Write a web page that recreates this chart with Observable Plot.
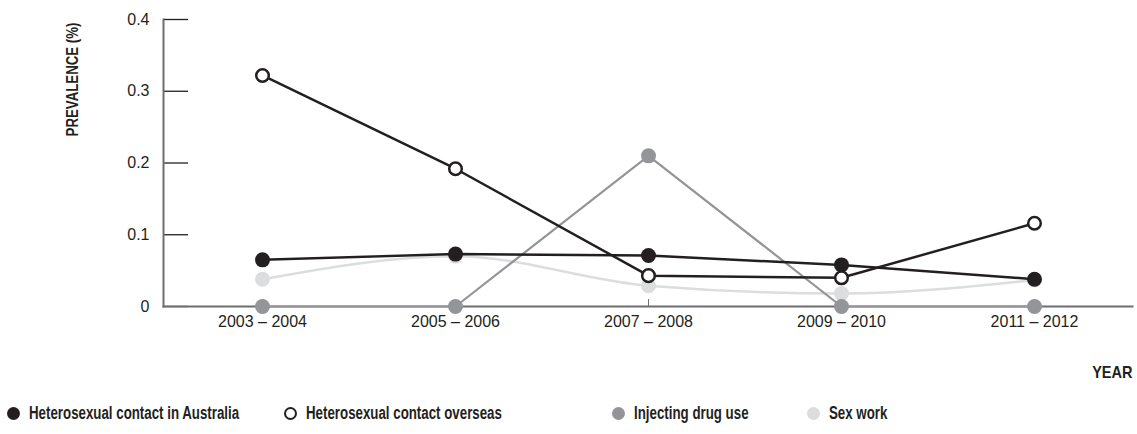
<!DOCTYPE html>
<html>
<head>
<meta charset="utf-8">
<script src="https://cdn.jsdelivr.net/npm/d3@7"></script>
<script src="https://cdn.jsdelivr.net/npm/@observablehq/plot@0.6"></script>
<style>
  html, body { margin: 0; padding: 0; background: #fff; }
  #wrap { position: relative; width: 1137px; height: 434px; }
  #legend { position: absolute; left: 0; top: 403px; width: 1137px; height: 22px;
    font-family: "Liberation Sans", Arial, sans-serif; font-weight: bold; font-size: 17.5px; color: #231f20; }
  .item { position: absolute; top: 0; display: flex; align-items: center; white-space: nowrap; }
  .sw { display: inline-block; width: 13px; height: 13px; border-radius: 50%; margin-right: 9px; box-sizing: border-box; flex: none; }
  .lbl { display: inline-block; transform: scaleX(0.76); transform-origin: 0 50%; }
</style>
</head>
<body>
<div id="wrap">
  <div id="chart"></div>
  <div id="legend"></div>
</div>
<script>
const years = ["2003 – 2004", "2005 – 2006", "2007 – 2008", "2009 – 2010", "2011 – 2012"];
const seriesNames = ["Heterosexual contact in Australia", "Heterosexual contact overseas", "Injecting drug use", "Sex work"];
const hetAustralia = [0.065, 0.073, 0.071, 0.058, 0.038];
const hetOverseas = [0.322, 0.192, 0.043, 0.040, 0.116];
const injecting = [0, 0, 0.210, 0, 0];
const sexWork = [0.038, 0.070, 0.029, 0.018, 0.037];
const yTicks = [0, 0.1, 0.2, 0.3, 0.4];

const dark = "#231f20", mid = "#939598", light = "#dcddde", axisGrey = "#6d6e71";
const toRows = (vals) => years.map((y, i) => ({year: y, value: vals[i]}));
const dAus = toRows(hetAustralia), dOver = toRows(hetOverseas), dInj = toRows(injecting), dSex = toRows(sexWork);

const chart = Plot.plot({
  width: 1137,
  height: 395,
  marginLeft: 163,
  marginRight: 5,
  marginTop: 19,
  marginBottom: 89,
  style: {fontFamily: "'Liberation Sans', Arial, sans-serif", fontSize: "16px", color: dark, background: "#fff", overflow: "visible"},
  x: {type: "point", domain: years, padding: 0.5, label: null},
  y: {domain: [0, 0.4], label: null},
  marks: [
    Plot.axisY({ticks: yTicks, tickSize: -25, tickFormat: () => "", stroke: dark, strokeWidth: 1.3}),
    Plot.axisY({ticks: yTicks, tickSize: 0, tickPadding: 14, tickFormat: d => d === 0 ? "0" : d3.format(".1f")(d), fill: dark, label: null}),
    Plot.axisX({tickSize: -7, tickPadding: 16, stroke: axisGrey, fill: dark}),
    Plot.frame({anchor: "left", stroke: axisGrey, strokeWidth: 2}),
    Plot.frame({anchor: "bottom", stroke: axisGrey, strokeWidth: 2}),
    Plot.line(dSex, {x: "year", y: "value", stroke: light, strokeWidth: 2.5, curve: "monotone-x"}),
    Plot.dot(dSex, {x: "year", y: "value", fill: light, r: 7.5}),
    Plot.line(dInj, {x: "year", y: "value", stroke: mid, strokeWidth: 2.2}),
    Plot.dot(dInj, {x: "year", y: "value", fill: mid, r: 7.5}),
    Plot.line(dAus, {x: "year", y: "value", stroke: dark, strokeWidth: 2.5}),
    Plot.dot(dAus, {x: "year", y: "value", fill: dark, r: 7.5}),
    Plot.line(dOver, {x: "year", y: "value", stroke: dark, strokeWidth: 2.5}),
    Plot.dot(dOver, {x: "year", y: "value", fill: "#fff", stroke: dark, strokeWidth: 2.5, r: 6.3}),
    Plot.text(["PREVALENCE (%)"], {frameAnchor: "top-left", dx: -98, dy: 60, rotate: -90, textAnchor: "middle", fontWeight: "bold", fontSize: 17, fill: dark}),
    Plot.text(["YEAR"], {frameAnchor: "bottom-right", dy: 71, textAnchor: "end", fontWeight: "bold", fontSize: 16.5, fill: dark})
  ]
});
document.getElementById("chart").appendChild(chart);

// condense the bold titles to mimic a condensed typeface
d3.select(chart).selectAll("text")
  .filter(function() { return this.textContent === "PREVALENCE (%)" || this.textContent === "YEAR"; })
  .each(function() {
    const tr = this.getAttribute("transform") || "";
    const s = this.textContent === "YEAR" ? 0.88 : 0.78;
    this.setAttribute("transform", tr + ` scale(${s},1)`);
  });

const legendStyles = [
  {left: 7, css: `background:${dark};`},
  {left: 284, css: `background:#fff;border:2.5px solid ${dark};`},
  {left: 612, css: `background:${mid};`},
  {left: 807, css: `background:${light};`}
];
const legend = document.getElementById("legend");
seriesNames.forEach((name, i) => {
  const it = document.createElement("div");
  it.className = "item";
  it.style.left = legendStyles[i].left + "px";
  it.innerHTML = `<span class="sw" style="${legendStyles[i].css}"></span><span class="lbl">${name}</span>`;
  legend.appendChild(it);
});
</script>
</body>
</html>
